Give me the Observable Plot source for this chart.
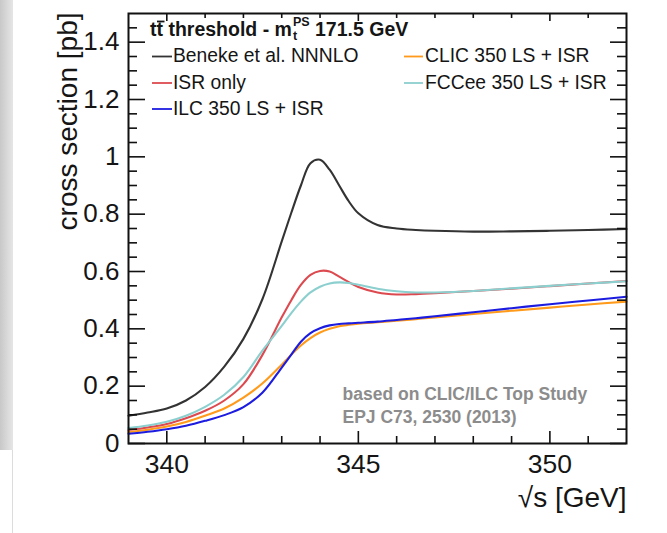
<!DOCTYPE html>
<html><head><meta charset="utf-8">
<script src="https://cdn.jsdelivr.net/npm/d3@7"></script>
<script src="https://cdn.jsdelivr.net/npm/@observablehq/plot@0.6"></script>
<style>
html,body{margin:0;padding:0;background:#fff;}
#wrap{position:relative;width:667px;height:533px;overflow:hidden;}
#shade{position:absolute;left:0;top:0;width:13px;height:450px;background:linear-gradient(to right,#c8c8c8,#e6e6e6);}
#shade2{position:absolute;left:12px;top:450px;width:1px;height:83px;background:#dcdcdc;}
</style></head>
<body><div id="wrap"></div>
<script>
// ---- data ----
const energy = [339, 339.5, 340, 340.5, 341, 341.5, 342, 342.5, 343, 343.25, 343.5, 343.75, 344, 344.25, 344.5, 344.75, 345, 345.5, 346, 346.5, 347, 348, 349, 350, 351, 352];
const beneke = [0.097, 0.108, 0.122, 0.150, 0.197, 0.268, 0.365, 0.505, 0.705, 0.805, 0.900, 0.978, 0.990, 0.955, 0.900, 0.845, 0.803, 0.762, 0.750, 0.745, 0.742, 0.739, 0.740, 0.742, 0.745, 0.748];
const isrOnly = [0.047, 0.056, 0.068, 0.088, 0.114, 0.150, 0.207, 0.310, 0.440, 0.500, 0.553, 0.588, 0.602, 0.600, 0.582, 0.563, 0.546, 0.527, 0.520, 0.521, 0.524, 0.532, 0.540, 0.549, 0.558, 0.567];
const fccee = [0.054, 0.063, 0.076, 0.097, 0.128, 0.170, 0.232, 0.325, 0.410, 0.455, 0.495, 0.527, 0.547, 0.558, 0.562, 0.560, 0.554, 0.540, 0.531, 0.527, 0.527, 0.532, 0.541, 0.550, 0.558, 0.566];
const clic = [0.040, 0.048, 0.059, 0.075, 0.097, 0.122, 0.160, 0.210, 0.275, 0.310, 0.342, 0.368, 0.387, 0.400, 0.409, 0.414, 0.418, 0.423, 0.428, 0.434, 0.440, 0.452, 0.463, 0.474, 0.485, 0.495];
const ilc = [0.034, 0.041, 0.050, 0.062, 0.079, 0.099, 0.127, 0.178, 0.265, 0.310, 0.355, 0.385, 0.402, 0.412, 0.417, 0.419, 0.421, 0.425, 0.431, 0.437, 0.444, 0.458, 0.472, 0.486, 0.499, 0.512];

const seriesNames = ["Beneke et al. NNNLO", "CLIC 350 LS + ISR", "ILC 350 LS + ISR", "ISR only", "FCCee 350 LS + ISR"];
const seriesValues = [beneke, clic, ilc, isrOnly, fccee];
const seriesColors = ["#333333", "#ff9a1a", "#1c1ce0", "#dc4a50", "#8ccfcf"];

const xMajor = [340, 345, 350];
const xMinor = [341, 342, 343, 344, 346, 347, 348, 349, 351];
const yMajor = [0, 0.2, 0.4, 0.6, 0.8, 1, 1.2, 1.4];
const yMinor = [0.05, 0.1, 0.15, 0.25, 0.3, 0.35, 0.45, 0.5, 0.55, 0.65, 0.7, 0.75, 0.85, 0.9, 0.95, 1.05, 1.1, 1.15, 1.25, 1.3, 1.35, 1.45];

const xTitle = "√s [GeV]";
const yTitle = "cross section [pb]";
const noteText = "based on CLIC/ILC Top Study\nEPJ C73, 2530 (2013)";
const legendTitle = {pre: "tt threshold - m", sub: "t", sup: "PS", post: " 171.5 GeV"};
const legendLeft = ["Beneke et al. NNNLO", "ISR only", "ILC 350 LS + ISR"];
const legendRight = ["CLIC 350 LS + ISR", "FCCee 350 LS + ISR"];

// ---- build ----
const rows = seriesNames.flatMap((name, k) => energy.map((e, i) => ({e, v: seriesValues[k][i], name})));

const W = 667, H = 533, ML = 128, MR = 41, MT = 13, MB = 90;
const IW = W - ML - MR, IH = H - MT - MB;
const font = "'Liberation Sans', Arial, Helvetica, sans-serif";

const plot = Plot.plot({
  width: W, height: H,
  marginLeft: ML, marginRight: MR, marginTop: MT, marginBottom: MB,
  style: {fontFamily: font, background: "transparent", color: "#151515"},
  x: {domain: [339, 352]},
  y: {domain: [0, 1.5]},
  color: {domain: seriesNames, range: seriesColors},
  marks: [
    Plot.line(rows, {x: "e", y: "v", z: "name", stroke: "name", curve: "catmull-rom", strokeWidth: 2.1}),
    // inward ticks, ROOT style, on all sides
    Plot.tickX(xMajor, {x: d => d, insetTop: IH - 12, stroke: "#111", strokeWidth: 1.6}),
    Plot.tickX(xMinor, {x: d => d, insetTop: IH - 7, stroke: "#111", strokeWidth: 1.6}),
    Plot.tickX(xMajor, {x: d => d, insetBottom: IH - 8, stroke: "#111", strokeWidth: 1.6}),
    Plot.tickX(xMinor, {x: d => d, insetBottom: IH - 5, stroke: "#111", strokeWidth: 1.6}),
    Plot.tickY(yMajor, {y: d => d, insetRight: IW - 17, stroke: "#111", strokeWidth: 1.6}),
    Plot.tickY(yMinor, {y: d => d, insetRight: IW - 9, stroke: "#111", strokeWidth: 1.6}),
    Plot.tickY(yMajor, {y: d => d, insetLeft: IW - 16, stroke: "#111", strokeWidth: 1.6}),
    Plot.tickY(yMinor, {y: d => d, insetLeft: IW - 9, stroke: "#111", strokeWidth: 1.6}),
    Plot.axisX(xMajor, {tickSize: 0, tickPadding: 11, fontSize: 26.5, label: null, tickFormat: d => String(d)}),
    Plot.axisY(yMajor, {tickSize: 0, tickPadding: 9, fontSize: 26, label: null, tickFormat: d => String(d)}),
    Plot.text([yTitle], {text: d => d, frameAnchor: "top-left", rotate: -90, textAnchor: "end", lineAnchor: "middle", dx: -60, dy: -1, fontSize: 28, fill: "#151515"}),
    Plot.text([xTitle], {text: d => d, frameAnchor: "bottom-right", textAnchor: "end", lineAnchor: "bottom", dy: 63, fontSize: 28, fill: "#151515"}),
    Plot.text([noteText], {text: d => d, frameAnchor: "bottom-left", textAnchor: "start", lineAnchor: "bottom", dx: 214, dy: -21, fontSize: 17.5, fontWeight: "bold", lineHeight: 1.28, fill: "#8c8c8c"}),
    Plot.frame({stroke: "#111", strokeWidth: 2})
  ]
});

const wrap = document.getElementById("wrap");
wrap.appendChild(plot);
const sh = document.createElement("div"); sh.id = "shade"; wrap.appendChild(sh);
const sh2 = document.createElement("div"); sh2.id = "shade2"; wrap.appendChild(sh2);

// ---- legend (ROOT TLegend style) ----
const svg = d3.select(plot);
const g = svg.append("g").attr("font-family", font).attr("fill", "#151515").attr("text-anchor", "start");
const colorOf = n => seriesColors[seriesNames.indexOf(n)];

// title with tt-bar and m_t^PS
const tx = 150, ty = 36, tfs = 19.5;
const t1 = g.append("text").attr("x", tx).attr("y", ty).attr("font-size", tfs).attr("font-weight", "bold").text(legendTitle.pre);
const tmp = g.append("text").attr("font-size", tfs).attr("font-weight", "bold").text("t");
const wt = tmp.node().getComputedTextLength();
tmp.remove();
g.append("line").attr("x1", tx + wt + 0.5).attr("x2", tx + 2 * wt + 1.5).attr("y1", ty - 14.5).attr("y2", ty - 14.5).attr("stroke", "#151515").attr("stroke-width", 1.8);
const x2 = tx + t1.node().getComputedTextLength() + 1;
g.append("text").attr("x", x2).attr("y", ty + 4).attr("font-size", 12.5).attr("font-weight", "bold").text(legendTitle.sub);
const sp = g.append("text").attr("x", x2).attr("y", ty - 10).attr("font-size", 12.5).attr("font-weight", "bold").text(legendTitle.sup);
const x3 = x2 + sp.node().getComputedTextLength();
g.append("text").attr("x", x3).attr("y", ty).attr("font-size", tfs).attr("font-weight", "bold").text(legendTitle.post);

const efs = 19.3;
const leftBase = [62, 88.5, 114.5];
legendLeft.forEach((n, i) => {
  g.append("line").attr("x1", 152).attr("x2", 172).attr("y1", leftBase[i] - 5.5).attr("y2", leftBase[i] - 5.5).attr("stroke", colorOf(n)).attr("stroke-width", 1.8);
  g.append("text").attr("x", 173).attr("y", leftBase[i]).attr("font-size", efs).text(n);
});
const rightBase = [62, 88.5];
legendRight.forEach((n, i) => {
  g.append("line").attr("x1", 404).attr("x2", 423).attr("y1", rightBase[i] - 5.5).attr("y2", rightBase[i] - 5.5).attr("stroke", colorOf(n)).attr("stroke-width", 1.8);
  g.append("text").attr("x", 425).attr("y", rightBase[i]).attr("font-size", efs).text(n);
});
</script>
</body></html>
